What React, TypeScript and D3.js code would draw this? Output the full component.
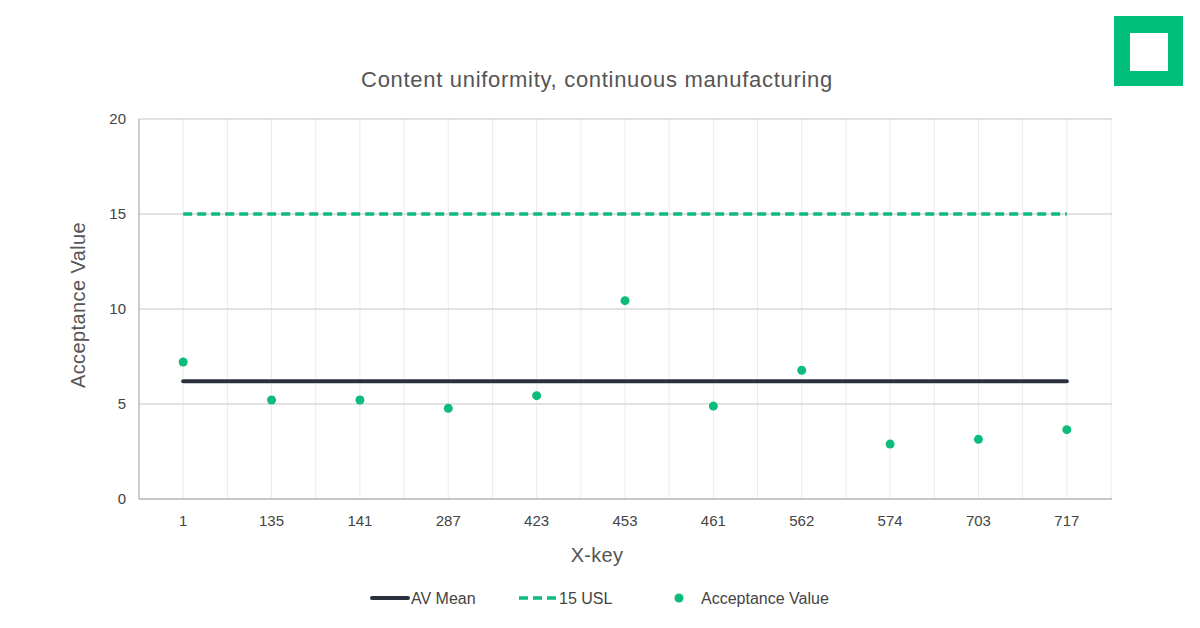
import React from "react";
import * as d3 from "d3";

const categories = ["1", "135", "141", "287", "423", "453", "461", "562", "574", "703", "717"];
const acceptanceValues = [7.21, 5.21, 5.21, 4.77, 5.44, 10.44, 4.89, 6.77, 2.89, 3.14, 3.65];
const avMean = 6.2;
const usl = 15;
const yTicks = [0, 5, 10, 15, 20];

const W = 1200, H = 628;
const M = { left: 139, right: 1111, top: 119, bottom: 499 };
const GREEN = "#0dbb7b";
const DARK = "#2a313c";
const FONT = "'Liberation Sans', Arial, sans-serif";

export default function App() {
  const x = d3.scaleBand<string>().domain(categories).range([M.left, M.right]);
  const y = d3.scaleLinear().domain([0, 20]).range([M.bottom, M.top]);
  const cx = (c: string) => (x(c) as number) + x.bandwidth() / 2;
  const x0 = cx(categories[0]);
  const x1 = cx(categories[categories.length - 1]);
  const line = d3.line<[number, number]>().x(d => d[0]).y(d => d[1]);
  const vgrid: number[] = [];
  categories.forEach((c, i) => {
    if (i > 0) vgrid.push(x(c) as number);
    vgrid.push(cx(c));
  });
  vgrid.push(M.right);

  return (
    <svg width={W} height={H} style={{ position: "absolute", left: 0, top: 0, background: "#fff" }} fontFamily={FONT}>
      <rect width={W} height={H} fill="#fff" />
      {/* logo */}
      <rect x={1114} y={16} width={69} height={70} fill="#00bf7b" />
      <rect x={1130} y={33} width={38} height={38} fill="#fff" />
      <text x={597} y={87} textAnchor="middle" fontSize={22} letterSpacing={0.7} fill="#555">Content uniformity, continuous manufacturing</text>
      {/* vertical grid */}
      {vgrid.map((v, i) => (
        <line key={"v" + i} x1={v} x2={v} y1={M.top} y2={M.bottom} stroke="#ececec" strokeWidth={1} />
      ))}
      {/* horizontal grid */}
      {yTicks.map(t => (
        <line key={"h" + t} x1={M.left} x2={M.right + 1} y1={y(t)} y2={y(t)} stroke="#d9d9d9" strokeWidth={1.5} />
      ))}
      {/* axes */}
      <line x1={M.left} x2={M.left} y1={M.top} y2={M.bottom} stroke="#bdbdbd" strokeWidth={1.5} />
      <line x1={M.left} x2={M.right + 1} y1={M.bottom} y2={M.bottom} stroke="#bdbdbd" strokeWidth={1.5} />
      {yTicks.map(t => (
        <text key={"yt" + t} x={126} y={y(t) + 5} textAnchor="end" fontSize={15} fill="#444">{t}</text>
      ))}
      {categories.map(c => (
        <text key={"xt" + c} x={cx(c)} y={526} textAnchor="middle" fontSize={15} fill="#444">{c}</text>
      ))}
      <text x={597} y={562} textAnchor="middle" fontSize={20} letterSpacing={0.3} fill="#555">X-key</text>
      <text transform={`translate(85,305) rotate(-90)`} textAnchor="middle" fontSize={20} letterSpacing={0.4} fill="#555">Acceptance Value</text>
      {/* USL */}
      <path d={line([[x0, y(usl)], [x1, y(usl)]]) || ""} stroke={GREEN} strokeWidth={3.5} strokeDasharray="9,5" fill="none" />
      {/* mean */}
      <path d={line([[x0, y(avMean)], [x1, y(avMean)]]) || ""} stroke={DARK} strokeWidth={4} strokeLinecap="round" fill="none" />
      {/* points */}
      {categories.map((c, i) => (
        <circle key={"p" + c} cx={cx(c)} cy={y(acceptanceValues[i])} r={4.5} fill={GREEN} />
      ))}
      {/* legend */}
      <line x1={372} x2={408} y1={598} y2={598} stroke={DARK} strokeWidth={4} strokeLinecap="round" />
      <text x={411} y={604} fontSize={16} fill="#444">AV Mean</text>
      <line x1={519} x2={557} y1={598} y2={598} stroke={GREEN} strokeWidth={3.5} strokeDasharray="9,5" />
      <text x={559} y={604} fontSize={16} fill="#444">15 USL</text>
      <circle cx={679} cy={598} r={4.5} fill={GREEN} />
      <text x={701} y={604} fontSize={16} fill="#444">Acceptance Value</text>
    </svg>
  );
}
